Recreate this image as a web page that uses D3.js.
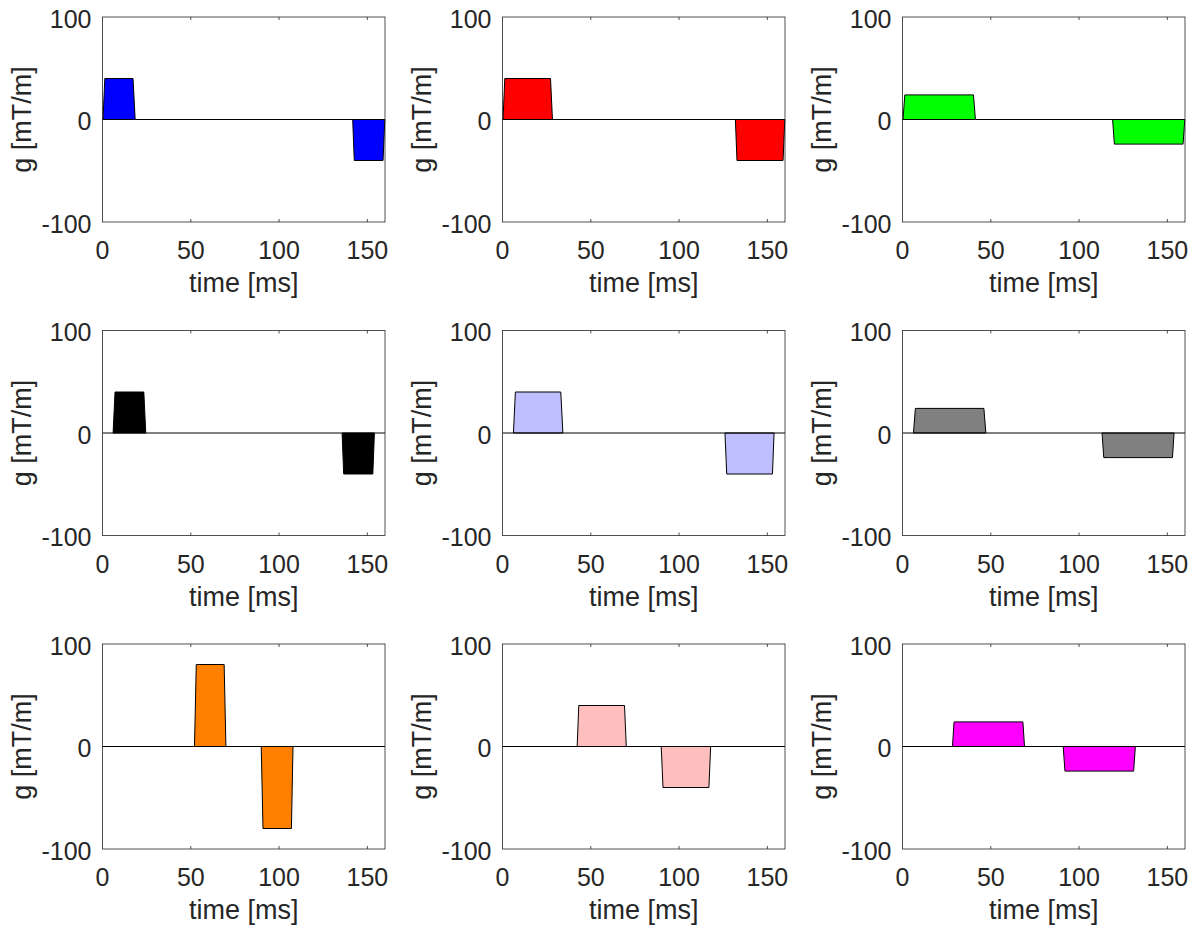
<!DOCTYPE html>
<html>
<head>
<meta charset="utf-8">
<script src="https://cdn.jsdelivr.net/npm/d3@7"></script>
<style>
  body { margin: 0; background: #fff; }
  text { font-family: "Liberation Sans", Arial, Helvetica, sans-serif; fill: #262626; }
</style>
</head>
<body>
<div id="chart"></div>
<script>
// gradient waveforms, one per panel: vertex times [ms] and amplitudes [mT/m]
var blueT    = [0, 0.3, 1.3, 17.3, 18.5, 141.7, 142.6, 158.9, 159.9, 160];
var blueG    = [0, 0, 40, 40, 0, 0, -40, -40, 0, 0];
var redT     = [0, 0.3, 1.3, 27.2, 28.3, 131.9, 132.8, 158.9, 159.9, 160];
var redG     = [0, 0, 40, 40, 0, 0, -40, -40, 0, 0];
var greenT   = [0, 0.3, 1.3, 40.2, 41.3, 119.0, 120.0, 158.9, 159.9, 160];
var greenG   = [0, 0, 24, 24, 0, 0, -24, -24, 0, 0];
var blackT   = [0, 6.0, 7.1, 23.4, 24.5, 135.7, 136.6, 153.1, 154.0, 160];
var blackG   = [0, 0, 40, 40, 0, 0, -40, -40, 0, 0];
var lavT     = [0, 6.2, 7.3, 33.0, 34.2, 126.0, 127.0, 152.9, 153.8, 160];
var lavG     = [0, 0, 40, 40, 0, 0, -40, -40, 0, 0];
var grayT    = [0, 6.2, 7.3, 46.1, 47.2, 113.0, 114.0, 152.9, 153.8, 160];
var grayG    = [0, 0, 24, 24, 0, 0, -24, -24, 0, 0];
var orangeT  = [0, 52.1, 53.1, 68.9, 69.9, 89.9, 90.9, 107.0, 107.9, 160];
var orangeG  = [0, 0, 80, 80, 0, 0, -80, -80, 0, 0];
var pinkT    = [0, 42.3, 43.2, 69.1, 70.1, 89.9, 90.9, 116.9, 117.9, 160];
var pinkG    = [0, 0, 40, 40, 0, 0, -40, -40, 0, 0];
var magT     = [0, 28.3, 29.2, 68.2, 69.1, 91.0, 92.0, 130.9, 131.9, 160];
var magG     = [0, 0, 24, 24, 0, 0, -24, -24, 0, 0];

var panelTimes = [blueT, redT, greenT, blackT, lavT, grayT, orangeT, pinkT, magT];
var panelAmps  = [blueG, redG, greenG, blackG, lavG, grayG, orangeG, pinkG, magG];
var panelColors = ["#0000ff", "#ff0000", "#00ff00", "#000000", "#bfbfff",
                   "#808080", "#ff8000", "#ffbfbf", "#ff00ff"];

var xTicks = [0, 50, 100, 150];
var yTicks = [-100, 0, 100];

var svgWidth = 1198, svgHeight = 926;
var axW = 282.5, axH = 205;
var colX = [102.5, 502.5, 902.5];
var rowY = [17, 330.5, 644];

var svg = d3.select("#chart").append("svg")
    .attr("width", svgWidth)
    .attr("height", svgHeight);

var xScale = d3.scaleLinear().domain([0, 160]).range([0, axW]);
var yScale = d3.scaleLinear().domain([-100, 100]).range([axH, 0]);

panelTimes.forEach(function(times, i) {
  var amps = panelAmps[i];
  var g = svg.append("g")
      .attr("transform", `translate(${colX[i % 3]}, ${rowY[Math.floor(i / 3)]})`);

  // split the waveform into lobes (runs of non-zero points with their zero ends)
  var pts = times.map((t, k) => ({t: t, g: amps[k]}));
  var lobes = [];
  for (var k = 1; k < pts.length - 1; k++) {
    if (pts[k].g === 0 && pts[k + 1].g !== 0) {
      var lobe = [pts[k]];
      k++;
      while (k < pts.length && pts[k].g !== 0) { lobe.push(pts[k]); k++; }
      lobe.push(pts[k]);
      lobes.push(lobe);
    }
  }

  var line = d3.line().x(d => xScale(d.t)).y(d => yScale(d.g));

  g.selectAll("path.lobe")
    .data(lobes)
    .enter()
    .append("path")
    .attr("class", "lobe")
    .attr("d", d => line(d) + "Z")
    .attr("fill", panelColors[i])
    .attr("stroke", "#000")
    .attr("stroke-width", 1)
    .attr("stroke-linejoin", "round");

  // zero baseline
  g.append("line")
    .attr("x1", xScale(0)).attr("x2", xScale(160))
    .attr("y1", yScale(0)).attr("y2", yScale(0))
    .attr("stroke", "#000")
    .attr("stroke-width", 1);

  // box
  g.append("rect")
    .attr("x", 0).attr("y", 0)
    .attr("width", axW).attr("height", axH)
    .attr("fill", "none")
    .attr("stroke", "#262626")
    .attr("stroke-width", 0.8);

  // inward ticks, top and bottom
  g.selectAll("line.xt")
    .data(xTicks.slice(1))
    .enter()
    .append("path")
    .attr("d", d => `M${xScale(d)},${axH}v-3M${xScale(d)},0v3`)
    .attr("stroke", "#262626")
    .attr("stroke-width", 0.8);

  // tick labels
  g.selectAll("text.xl")
    .data(xTicks)
    .enter()
    .append("text")
    .attr("x", d => xScale(d))
    .attr("y", axH + 37)
    .attr("text-anchor", "middle")
    .style("font-size", "25px")
    .text(d => d);

  g.selectAll("text.yl")
    .data(yTicks)
    .enter()
    .append("text")
    .attr("x", -11)
    .attr("y", d => yScale(d) + 10.5)
    .attr("text-anchor", "end")
    .style("font-size", "25px")
    .text(d => d);

  // axis labels
  g.append("text")
    .attr("x", axW / 2)
    .attr("y", axH + 70)
    .attr("text-anchor", "middle")
    .style("font-size", "27px")
    .text("time [ms]");

  g.append("text")
    .attr("transform", `translate(-72, ${axH / 2}) rotate(-90)`)
    .attr("text-anchor", "middle")
    .style("font-size", "27px")
    .text("g [mT/m]");
});
</script>
</body>
</html>
